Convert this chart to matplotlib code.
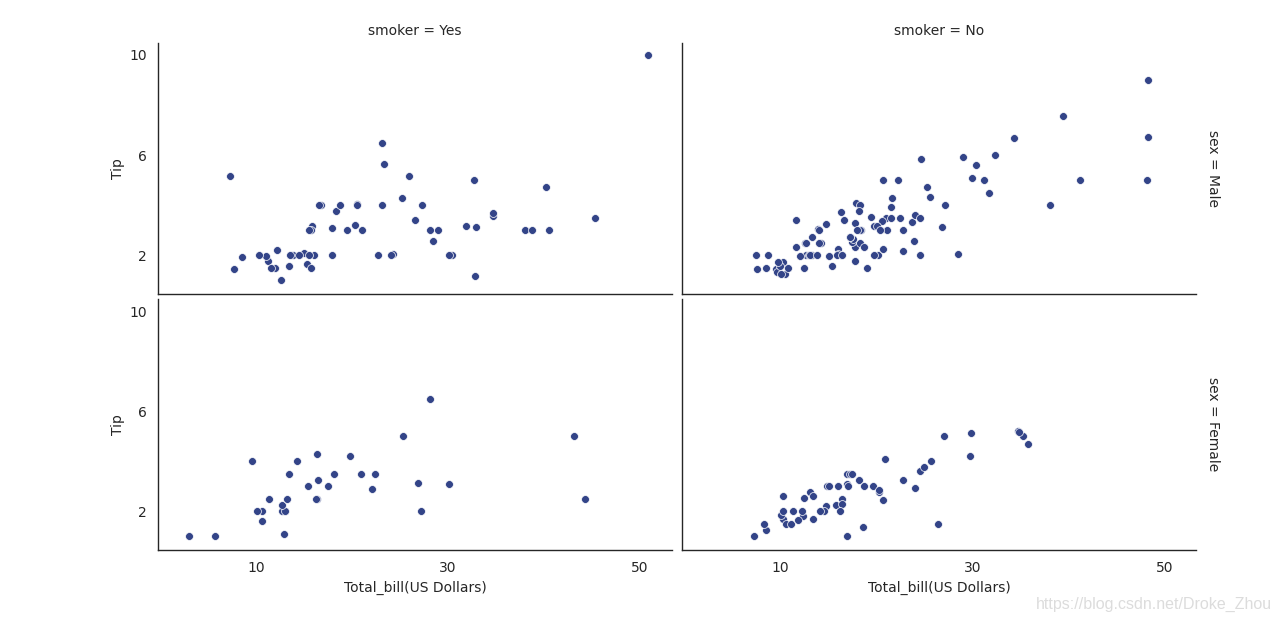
import matplotlib
matplotlib.use("Agg")
import matplotlib.pyplot as plt

# tips: total_bill / tip split by sex (rows) and smoker (cols)
male_yes_bill = [38.01, 11.24, 20.29, 13.81, 11.02, 18.29, 15.01, 17.92, 19.44, 32.68,
                 28.97, 40.17, 27.28, 12.03, 21.01, 15.36, 20.49, 25.21, 16.0, 50.81,
                 15.81, 7.25, 31.85, 16.82, 32.9, 17.89, 14.48, 34.63, 34.65, 23.33,
                 45.35, 23.17, 40.55, 30.46, 23.1, 15.69, 28.44, 15.48, 16.58, 10.34,
                 13.51, 18.71, 20.53, 26.59, 38.73, 24.27, 30.06, 25.89, 28.15, 11.59,
                 7.74, 12.16, 8.58, 13.42, 24.01, 15.69, 15.53, 12.6, 32.83, 22.67]
male_yes_tip = [3.0, 1.76, 3.21, 2.0, 1.98, 3.76, 2.09, 3.08, 3.0, 5.0,
                3.0, 4.73, 4.0, 1.5, 3.0, 1.64, 4.06, 4.29, 2.0, 10.0,
                3.16, 5.15, 3.18, 4.0, 3.11, 2.0, 2.0, 3.55, 3.68, 5.65,
                3.5, 6.5, 3.0, 2.0, 4.0, 1.5, 2.56, 2.02, 4.0, 2.0,
                2.0, 4.0, 4.0, 3.41, 3.0, 2.03, 2.0, 5.16, 3.0, 1.5,
                1.44, 2.2, 1.92, 1.58, 2.0, 3.0, 3.0, 1.0, 1.17, 2.0]

male_no_bill = [10.34, 21.01, 23.68, 25.29, 8.77, 26.88, 15.04, 14.78, 10.27, 15.42,
                18.43, 21.58, 16.29, 20.65, 17.92, 39.42, 19.82, 17.81, 13.37, 12.69,
                21.7, 9.55, 18.35, 17.78, 24.06, 16.31, 18.69, 31.27, 16.04, 17.46,
                13.94, 9.68, 30.4, 18.29, 22.23, 32.4, 28.55, 18.04, 12.54, 9.94,
                25.56, 19.49, 48.27, 17.59, 20.08, 20.23, 12.02, 10.51, 27.2, 22.76,
                17.29, 16.66, 15.98, 13.03, 18.28, 24.71, 21.16, 22.49, 12.46, 18.24,
                14.0, 38.07, 23.95, 29.93, 11.69, 14.26, 15.95, 8.52, 22.82, 19.08,
                34.3, 41.19, 9.78, 7.51, 14.07, 13.13, 17.26, 24.55, 19.77, 48.17,
                16.49, 21.5, 12.66, 13.81, 24.52, 20.76, 31.71, 20.69, 7.56, 48.33,
                20.45, 13.28, 11.61, 10.77, 10.07, 29.03, 17.82]
male_no_tip = [1.66, 3.5, 3.31, 4.71, 2.0, 3.12, 1.96, 3.23, 1.71, 1.57,
               3.0, 3.92, 3.71, 3.35, 4.08, 7.58, 3.18, 2.34, 2.0, 2.0,
               4.3, 1.45, 2.5, 3.27, 3.6, 2.0, 2.31, 5.0, 2.24, 2.54,
               3.06, 1.32, 5.6, 3.0, 5.0, 6.0, 2.05, 3.0, 2.5, 1.56,
               4.34, 3.51, 6.73, 2.64, 3.15, 2.01, 1.97, 1.25, 4.0, 3.0,
               2.71, 3.4, 2.03, 2.0, 4.0, 5.85, 3.0, 3.5, 1.5, 3.76,
               3.0, 4.0, 2.55, 5.07, 2.31, 2.5, 2.0, 1.48, 2.18, 1.5,
               6.7, 5.0, 1.73, 2.0, 2.5, 2.0, 2.74, 2.0, 2.0, 5.0,
               2.0, 3.5, 2.5, 2.0, 3.48, 2.24, 4.5, 5.0, 1.44, 9.0,
               3.0, 2.72, 3.39, 1.47, 1.25, 5.92, 1.75]

female_yes_bill = [3.07, 26.86, 25.28, 5.75, 16.32, 11.35, 15.38, 44.3, 22.42, 14.31,
                   17.51, 10.59, 10.63, 9.6, 20.9, 18.15, 19.81, 43.11, 13.0, 12.74,
                   13.0, 16.4, 16.47, 12.76, 13.27, 28.17, 12.9, 30.14, 13.42, 16.27,
                   10.09, 22.12, 27.18]
female_yes_tip = [1.0, 3.14, 5.0, 1.0, 4.3, 2.5, 3.0, 2.5, 3.48, 4.0,
                  3.0, 1.61, 2.0, 4.0, 3.5, 3.5, 4.19, 5.0, 2.0, 2.01,
                  2.0, 2.5, 3.23, 2.23, 2.5, 6.5, 1.1, 3.09, 3.48, 2.5,
                  2.0, 2.88, 2.0]

female_no_bill = [16.99, 24.59, 35.26, 14.83, 10.33, 16.97, 20.29, 15.77, 19.65, 15.06,
                  20.69, 16.93, 10.29, 34.81, 26.41, 16.45, 17.07, 14.73, 10.07, 34.83,
                  22.75, 20.92, 7.25, 25.71, 17.31, 10.65, 12.43, 24.08, 13.42, 12.48,
                  29.8, 14.52, 11.38, 20.27, 11.17, 12.26, 18.26, 8.51, 10.33, 14.15,
                  13.16, 17.47, 27.05, 16.43, 8.35, 18.64, 11.87, 29.85, 25.0, 13.39,
                  16.21, 15.98, 35.83, 18.78]
female_no_tip = [1.01, 3.61, 5.0, 3.02, 1.67, 3.5, 2.75, 2.23, 3.0, 3.0,
                 2.45, 3.07, 2.6, 5.2, 1.5, 2.47, 3.0, 2.2, 1.83, 5.17,
                 3.25, 4.08, 1.0, 4.0, 3.5, 1.5, 1.8, 2.92, 1.68, 2.52,
                 4.2, 2.0, 2.0, 2.83, 1.5, 2.0, 3.25, 1.25, 2.0, 2.0,
                 2.75, 3.5, 5.0, 2.3, 1.5, 1.36, 1.63, 5.14, 3.75, 2.61,
                 2.0, 3.0, 4.67, 3.0]

col_names = ["Yes", "No"]
row_names = ["Male", "Female"]
xticks = [10, 30, 50]
yticks = [2, 6, 10]

panels = [[(male_yes_bill, male_yes_tip), (male_no_bill, male_no_tip)],
          [(female_yes_bill, female_yes_tip), (female_no_bill, female_no_tip)]]

text_col = "#262626"
plt.rcParams["font.family"] = "DejaVu Sans"
plt.rcParams["font.size"] = 10

fig, axes = plt.subplots(2, 2, figsize=(12.8, 6.23), dpi=100, sharex=True, sharey=True)
fig.subplots_adjust(left=0.1234, right=0.9344, top=0.931, bottom=0.117,
                    wspace=0.02, hspace=0.02)

for i in range(2):
    for j in range(2):
        ax = axes[i, j]
        bill, tip = panels[i][j]
        ax.scatter(bill, tip, s=32, color="#334488", edgecolor="white", linewidth=0.5,
                   zorder=3)
        for side in ["top", "right"]:
            ax.spines[side].set_visible(False)
        for side in ["left", "bottom"]:
            ax.spines[side].set_color(text_col)
            ax.spines[side].set_linewidth(1.0)
        ax.tick_params(length=0, pad=8, labelsize=10, colors=text_col)
        ax.set_xticks(xticks)
        ax.set_yticks(yticks)
        ax.set_xlim(-0.2, 53.3)
        ax.set_ylim(0.44, 10.48)
        if i == 0:
            ax.set_title("smoker = " + col_names[j], fontsize=10, color=text_col)
        if j == 0:
            ax.set_ylabel("Tip", fontsize=10, color=text_col, labelpad=3)
        if i == 1:
            ax.set_xlabel("Total_bill(US Dollars)", fontsize=10, color=text_col)
        if j == 1:
            ax.annotate("sex = " + row_names[i], xy=(1.02, 0.5), xycoords="axes fraction",
                        rotation=270, ha="left", va="center", fontsize=10, color=text_col)

fig.text(0.9935, 0.018, "https://blog.csdn.net/Droke_Zhou", ha="right", va="bottom",
         fontsize=11.5, color="#dcdcdc", family="Liberation Sans")

fig.savefig("out.png", dpi=100)
